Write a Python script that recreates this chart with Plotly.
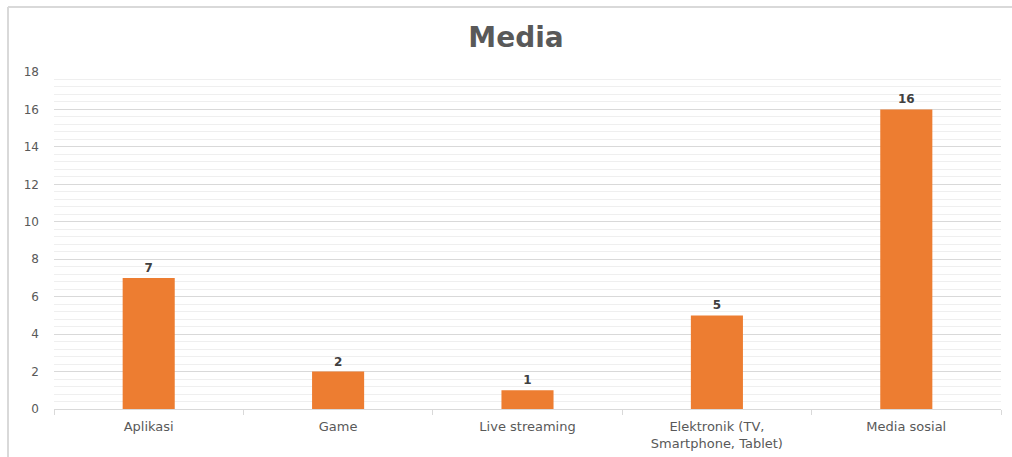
import plotly.graph_objects as go

categories = ["Aplikasi", "Game", "Live streaming", "Elektronik (TV,<br>Smartphone, Tablet)", "Media sosial"]
values = [7, 2, 1, 5, 16]
y_ticks = [0, 2, 4, 6, 8, 10, 12, 14, 16, 18]

W, H = 1012, 457
ml, mr, mt, mb = 54, 11, 72, 48
pw = W - ml - mr
ph = H - mt - mb
FONT = "DejaVu Sans"

fig = go.Figure(go.Bar(
    x=categories, y=values,
    marker=dict(color="#ED7D31", line=dict(width=0)),
    width=0.275,
    text=["<b>" + str(v) + "</b>" for v in values],
    textposition="outside",
    textfont=dict(family=FONT, size=12, color="#404040"),
    cliponaxis=False,
))

fig.update_layout(
    width=W, height=H,
    margin=dict(l=ml, r=mr, t=mt, b=mb),
    paper_bgcolor="white", plot_bgcolor="white",
    showlegend=False,
    bargap=0.725,
    title=dict(text="<b>Media</b>", x=(516 - ml) / pw, xref="paper", xanchor="center",
               y=1 - 37 / H, yanchor="middle",
               font=dict(family=FONT, size=28, color="#595959")),
    font=dict(family=FONT, size=12, color="#595959"),
)

fig.update_xaxes(
    type="category", tickson="boundaries", ticks="outside", ticklen=5,
    tickcolor="#d9d9d9", showline=True, linecolor="#d9d9d9", linewidth=1,
    showgrid=False, ticklabelstandoff=5, automargin=False,
    tickfont=dict(family=FONT, size=13, color="#595959"),
)
fig.update_yaxes(
    range=[0, 18], tickvals=y_ticks, showgrid=True, gridcolor="#d9d9d9", gridwidth=1,
    zeroline=False, showline=False, ticks="", ticklabelstandoff=14, automargin=False,
    tickfont=dict(family=FONT, size=12, color="#595959"),
    minor=dict(dtick=0.4, showgrid=True, gridcolor="#efefef", gridwidth=1),
)

# outer chart frame (top and left edges visible)
x0 = (8 - ml) / pw
ytop = (H - mb - 7) / ph
fig.add_shape(type="line", xref="paper", yref="paper", x0=x0, x1=(W - ml) / pw + 0.01,
              y0=ytop, y1=ytop, line=dict(color="#d9d9d9", width=2))
fig.add_shape(type="line", xref="paper", yref="paper", x0=x0, x1=x0,
              y0=ytop, y1=-0.2, line=dict(color="#d9d9d9", width=2))

fig.write_html("out.html")
